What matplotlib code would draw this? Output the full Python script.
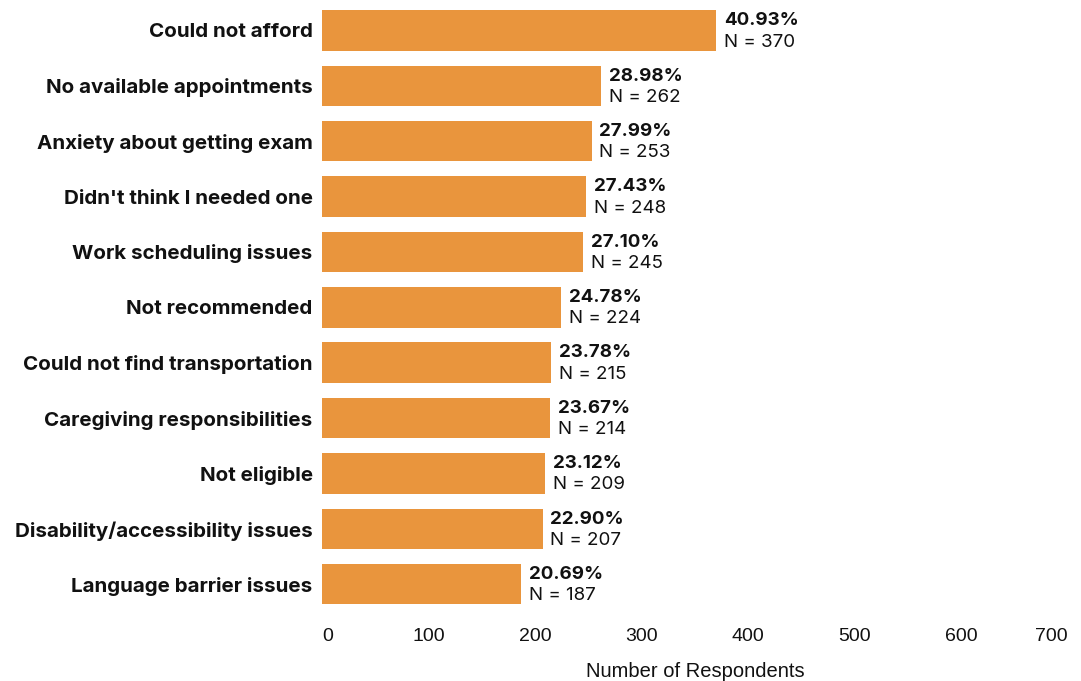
import matplotlib
matplotlib.use("Agg")
import matplotlib.pyplot as plt
from matplotlib import font_manager

categories = [
    "Could not afford",
    "No available appointments",
    "Anxiety about getting exam",
    "Didn't think I needed one",
    "Work scheduling issues",
    "Not recommended",
    "Could not find transportation",
    "Caregiving responsibilities",
    "Not eligible",
    "Disability/accessibility issues",
    "Language barrier issues",
]
counts = [370, 262, 253, 248, 245, 224, 215, 214, 209, 207, 187]
percents = [40.93, 28.98, 27.99, 27.43, 27.10, 24.78, 23.78, 23.67, 23.12, 22.90, 20.69]
xticks = [0, 100, 200, 300, 400, 500, 600, 700]

names = {f.name for f in font_manager.fontManager.ttflist}
narrow = "Liberation Sans Narrow" if "Liberation Sans Narrow" in names else "Liberation Sans"
main = "Inter" if "Inter" in names else "DejaVu Sans"

fig = plt.figure(figsize=(10.81, 6.81), dpi=100)
ax = fig.add_axes([0.2983, 0.1016, 0.6892, 0.8943])

ypos = list(range(len(categories)))
ax.barh(ypos, counts, height=0.73, color="#E9953D")
ax.set_xlim(0, 700)
ax.set_ylim(len(categories) - 0.5, -0.5)

for y, c, p in zip(ypos, counts, percents):
    ax.annotate(f"{p:.2f}%", (c, y), xytext=(5.5, 7.0), textcoords="offset points",
                ha="left", va="center", fontsize=13.5, fontweight="bold",
                family=main, color="#111111")
    ax.annotate(f"N = {c}", (c, y), xytext=(5.5, -8.3), textcoords="offset points",
                ha="left", va="center", fontsize=13.5, family=main, color="#111111")

ax.set_yticks(ypos)
ax.set_yticklabels(categories, family=main, fontweight="bold", fontsize=14.8, color="#111111")
ax.set_xticks(xticks)
ax.set_xticklabels([str(t) for t in xticks], family=narrow, fontsize=14, color="#111111")
labels = ax.get_xticklabels()
labels[0].set_ha("left")
labels[-1].set_ha("right")
ax.tick_params(axis="y", length=0, pad=7)
ax.tick_params(axis="x", length=0, pad=12)
for s in ax.spines.values():
    s.set_visible(False)
ax.set_xlabel("Number of Respondents", family=narrow, fontsize=14.5, color="#111111", labelpad=12)

fig.savefig("out.png", dpi=100, facecolor="white")
